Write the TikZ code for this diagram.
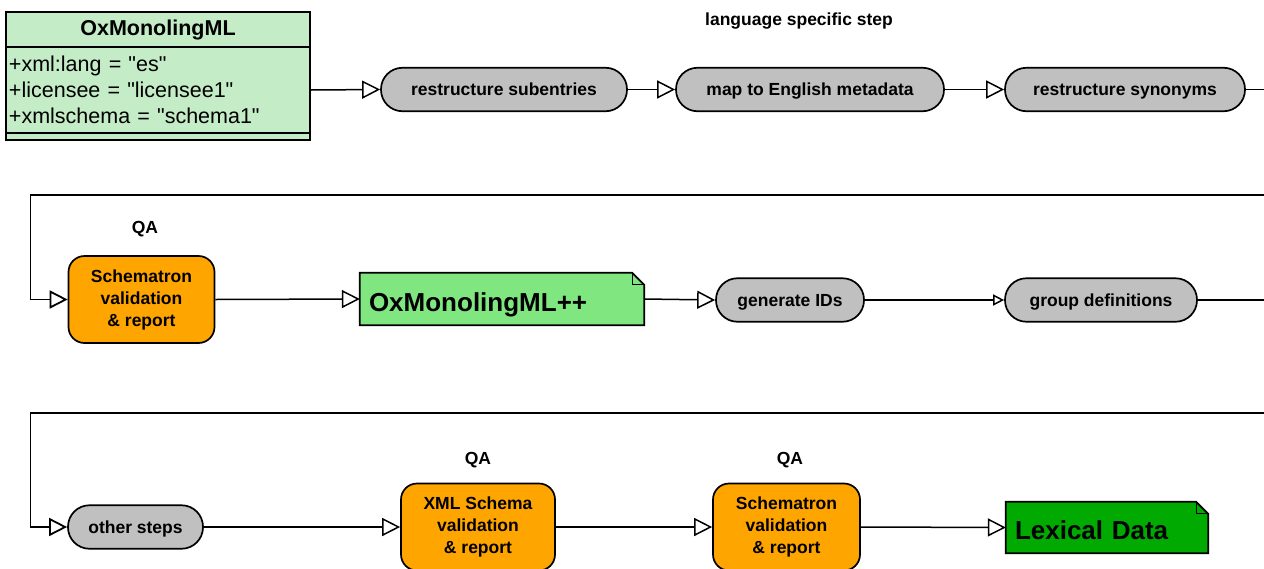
\documentclass[tikz,border=0pt]{standalone}
\usepackage{fontspec}
\setmainfont{Liberation Sans}
% same face without TeX ligatures, so straight quotes stay straight
\newfontfamily\plainsans{Liberation Sans}
\usetikzlibrary{arrows.meta,backgrounds}

\definecolor{pillgray}{RGB}{192,192,192}
\definecolor{umlgreen}{RGB}{196,236,198}
\definecolor{notegreen}{RGB}{128,230,128}
\definecolor{lexgreen}{RGB}{0,170,0}
\definecolor{qaorange}{RGB}{255,165,0}

\tikzset{
  pill/.style={draw, line width=1.7pt, fill=pillgray, rounded corners=21.5pt,
    minimum height=43.5pt, inner sep=0pt, text height=16pt, text depth=3.4pt,
    font=\bfseries\fontsize{17.5}{21}\selectfont},
  qabox/.style={draw, line width=1.7pt, fill=qaorange, rounded corners=16pt,
    minimum width=146pt, minimum height=87pt, inner sep=0pt, align=center,
    font=\bfseries\fontsize{17.5}{22}\selectfont},
  notebox/.style={inner xsep=9pt, inner ysep=0pt, align=left,
    text height=26pt, text depth=1.4pt,
    font=\bfseries\fontsize{26}{30}\selectfont},
  umlpart/.style={draw, line width=1.7pt, fill=umlgreen, minimum width=304pt, inner sep=0pt},
  label/.style={font=\bfseries\fontsize{17.5}{21}\selectfont, inner sep=0pt},
  flow/.style={line width=1.5pt, -{Triangle[fill=white, length=18pt, width=18pt]}},
  smallflow/.style={line width=1.5pt, -{Triangle[fill=white, length=11pt, width=11pt]}},
  link/.style={line width=1.5pt},
  backline/.style={line width=1.8pt, -{Triangle[fill=white, length=18pt, width=18pt]}},
}

% note outline with a folded top-right corner, drawn behind a named node
\newcommand{\notebg}[2]{%
  \begin{pgfonlayer}{background}
    \draw[line width=1.7pt, fill=#2, line join=miter]
      (#1.south west) -- (#1.north west) -- ([xshift=-12pt]#1.north east)
      -- ([yshift=-12pt]#1.north east) -- (#1.south east) -- cycle;
    \draw[line width=1pt]
      ([xshift=-12pt]#1.north east) -- ([xshift=-12pt,yshift=-12pt]#1.north east)
      -- ([yshift=-12pt]#1.north east);
  \end{pgfonlayer}}

\begin{document}
\begin{tikzpicture}[x=1pt, y=-1pt]
\useasboundingbox (0,0) rectangle (1264,568);

% class box
\node[umlpart, minimum height=35pt, font=\bfseries\fontsize{21.5}{25}\selectfont]
  (umlhead) at (158,29.5) {OxMonolingML};
\node[umlpart, minimum height=86pt, text width=298pt, inner xsep=3pt, align=left,
  font=\plainsans\fontsize{21.5}{26}\selectfont]
  (umlattr) at (158,90) {+xml:lang = "es"\\+licensee = "licensee1"\\+xmlschema = "schema1"};
\node[umlpart, minimum height=7pt] (umlfoot) at (158,136.5) {};

% first row
\node[label] (langstep) at (799,21) {language specific step};
\node[pill, minimum width=246pt] (sub) at (504,89.5) {restructure subentries};
\node[pill, minimum width=268pt] (meta) at (810,89.5) {map to English metadata};
\node[pill, minimum width=240pt] (syn) at (1125,89.5) {restructure synonyms};
\coordinate (out1) at (1270,89.5);

% second row
\coordinate (in1) at (1270,195);
\coordinate (turn1) at (30.5,195);
\node[label] (qa1) at (145,229) {QA};
\node[qabox] (sch1) at (141.5,299.5) {Schematron\\validation\\\& report};
\node[notebox, minimum height=52pt, text width=266pt] (plus) at (502,299)
  {OxMonolingML++};
\notebg{plus}{notegreen}
\node[pill, minimum width=148pt] (ids) at (790,300) {generate IDs};
\node[pill, minimum width=192pt] (grp) at (1101,300) {group definitions};
\coordinate (out2) at (1270,300);

% third row
\coordinate (in2) at (1270,413);
\coordinate (turn2) at (30.5,413);
\node[pill, minimum width=135pt] (other) at (135.5,527) {other steps};
\node[label] (qa2) at (478,460) {QA};
\node[qabox, minimum width=154pt] (xsd) at (478,527) {XML Schema\\validation\\\& report};
\node[label] (qa3) at (790,460) {QA};
\node[qabox, minimum width=147pt] (sch2) at (786.5,527) {Schematron\\validation\\\& report};
\node[notebox, minimum height=51pt, text width=184pt] (lex) at (1107,527.5)
  {Lexical Data};
\notebg{lex}{lexgreen}

% connectors
\draw[flow] (umlattr.east) -- (sub.west);
\draw[flow] (sub.east) -- (meta.west);
\draw[flow] (meta.east) -- (syn.west);
\draw[link] (syn.east) -- (out1);

\draw[backline] (in1) -- (turn1) |- (sch1.west);
\draw[flow] (sch1.east) -- (plus.west);
\draw[flow] (plus.east) -- (ids.west);
\draw[smallflow] (ids.east) -- (grp.west);
\draw[link] (grp.east) -- (out2);

\draw[backline] (in2) -- (turn2) |- (other.west);
\draw[flow] (other.east) -- (xsd.west);
\draw[flow] (xsd.east) -- (sch2.west);
\draw[flow] (sch2.east) -- (lex.west);
\end{tikzpicture}
\end{document}
